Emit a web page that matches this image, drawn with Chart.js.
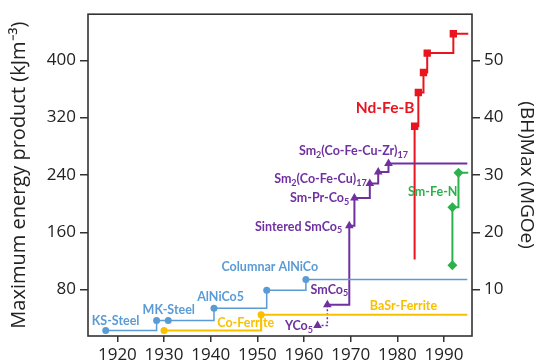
<!DOCTYPE html>
<html>
<head>
<meta charset="utf-8">
<script src="https://cdn.jsdelivr.net/npm/chart.js@4.4.0/dist/chart.umd.min.js"></script>
<style>
    html, body { margin: 0; padding: 0; background: #fff; }
    #wrap { width: 539px; height: 364px; }
</style>
</head>
<body>
<div id="wrap"><canvas id="grafico"></canvas></div>
<script>
// Anos e produto energético máximo (kJ/m3) de cada família de ímãs
const anosAco = [1917.5, 1928.4, 1930.9, 1940.7, 1952, 1960.4, 1995];
const valoresAco = [23, 37, 37, 54, 79, 94, 94];
const anosFerrita = [1930, 1950.8, 1995];
const valoresFerrita = [23, 45, 45];
const anosSmCo = [1962.9, 1965, 1969.7, 1970.8, 1974.1, 1975.9, 1978.1, 1995];
const valoresSmCo = [30, 59, 169, 208, 228, 244, 256, 256];
const anosNdFeB = [1983.7, 1983.7, 1984.5, 1985.6, 1986.4, 1992, 1995.2];
const valoresNdFeB = [122, 308, 355, 383, 410, 437, 437];
const anosSmFeN = [1991.8, 1991.8, 1993.1, 1995.2];
const valoresSmFeN = [114, 195, 243, 243];

const ticksAnos = [1920, 1930, 1940, 1950, 1960, 1970, 1980, 1990];
const ticksKJ = [80, 160, 240, 320, 400];
const ticksMGOe = [10, 20, 30, 40, 50];

const azul = '#5b9bd5';
const amarelo = '#f9c000';
const roxo = '#7030a0';
const vermelho = '#e8141e';
const verde = '#2bb24c';
const corEixo = '#333333';

// nomes dos materiais; "_n" vira subscrito
const rotulos = [
    { texto: 'KS-Steel', ano: 1914.5, valor: 36, cor: azul },
    { texto: 'MK-Steel', ano: 1925.4, valor: 51, cor: azul },
    { texto: 'AlNiCo5', ano: 1937.1, valor: 70, cor: azul },
    { texto: 'Columnar AlNiCo', ano: 1942.3, valor: 112, cor: azul },
    { texto: 'Co-Ferrite', ano: 1941.4, valor: 33, cor: amarelo },
    { texto: 'BaSr-Ferrite', ano: 1974.1, valor: 57, cor: amarelo },
    { texto: 'YCo_5', ano: 1955.9, valor: 29, cor: roxo },
    { texto: 'SmCo_5', ano: 1961.4, valor: 80, cor: roxo },
    { texto: 'Sintered SmCo_5', ano: 1949.5, valor: 168, cor: roxo },
    { texto: 'Sm-Pr-Co_5', ano: 1957.0, valor: 208, cor: roxo },
    { texto: 'Sm_2(Co-Fe-Cu)_17', ano: 1953.6, valor: 234, cor: roxo },
    { texto: 'Sm_2(Co-Fe-Cu-Zr)_17', ano: 1958.9, valor: 273, cor: roxo },
    { texto: 'Nd-Fe-B', ano: 1971.1, valor: 333, cor: vermelho, tamanho: 15.5 },
    { texto: 'Sm-Fe-N', ano: 1982.3, valor: 216, cor: verde }
];

function pontos(anos, valores) {
    return anos.map((ano, i) => ({ x: ano, y: valores[i] }));
}

// o último ponto de cada série só prolonga a linha, sem marcador
function raios(anos, raio, semInicio) {
    return anos.map((a, i) => (i === anos.length - 1 || (semInicio && i === 0)) ? 0 : raio);
}

function serie(anos, valores, cor, estilo, raio, largura, semInicio) {
    return {
        data: pontos(anos, valores),
        borderColor: cor,
        backgroundColor: cor,
        borderWidth: largura,
        pointStyle: estilo,
        pointRadius: raios(anos, raio, semInicio),
        pointBorderWidth: 0,
        stepped: 'before',
        tension: 0
    };
}

const dsSmCo = serie(anosSmCo, valoresSmCo, roxo, 'triangle', 5, 2);
dsSmCo.segment = {
    borderDash: ctx => ctx.p0DataIndex === 0 ? [2, 2] : undefined,
    borderWidth: ctx => ctx.p0DataIndex === 0 ? 1.5 : 2
};

function desenharRotulo(ctx, r, x, y) {
    const tam = r.tamanho || 12.5;
    const partes = r.texto.split(/_(\d+)/);
    let px = x;
    ctx.fillStyle = r.cor;
    ctx.textBaseline = 'middle';
    ctx.textAlign = 'left';
    partes.forEach((p, i) => {
        if (!p) return;
        if (i % 2 === 1) {
            ctx.font = 'bold ' + Math.round(tam * 0.68) + 'px Lato';
            ctx.fillText(p, px, y + tam * 0.3);
        } else {
            ctx.font = 'bold ' + tam + 'px Lato';
            ctx.fillText(p, px, y);
        }
        px += ctx.measureText(p).width;
    });
}

const pluginExtras = {
    id: 'extras',
    afterDatasetsDraw(chart) {
        const ctx = chart.ctx;
        const a = chart.chartArea;
        ctx.save();
        ctx.strokeStyle = corEixo;
        ctx.lineWidth = 1.6;
        ctx.strokeRect(a.left, a.top, a.right - a.left, a.bottom - a.top);
        rotulos.forEach(r => {
            const x = chart.scales.x.getPixelForValue(r.ano);
            const y = chart.scales.y.getPixelForValue(r.valor);
            desenharRotulo(ctx, r, x, y);
        });
        ctx.restore();
    }
};

const fonteTicks = { family: 'Open Sans', size: 17 };

new Chart(document.getElementById('grafico'), {
    type: 'line',
    data: {
        datasets: [
            serie(anosAco, valoresAco, azul, 'circle', 3.5, 1.5),
            serie(anosFerrita, valoresFerrita, amarelo, 'circle', 3.5, 2),
            dsSmCo,
            serie(anosNdFeB, valoresNdFeB, vermelho, 'rect', 5.2, 2, true),
            serie(anosSmFeN, valoresSmFeN, verde, 'rectRot', 5, 2)
        ]
    },
    options: {
        responsive: true,
        maintainAspectRatio: false,
        animation: false,
        layout: { padding: { top: 10 } },
        plugins: { legend: { display: false }, tooltip: { enabled: false } },
        scales: {
            x: {
                type: 'linear',
                min: 1913.7,
                max: 1996,
                afterBuildTicks: s => { s.ticks = ticksAnos.map(v => ({ value: v })); },
                afterFit: s => { s.height = 28; },
                border: { display: false },
                grid: { drawOnChartArea: false, drawTicks: true, tickLength: 6, color: corEixo, lineWidth: 1.5 },
                ticks: { font: fonteTicks, color: '#222', padding: 3, maxRotation: 0, callback: v => String(v) }
            },
            y: {
                position: 'left',
                min: 15.3,
                max: 464.3,
                afterBuildTicks: s => { s.ticks = ticksKJ.map(v => ({ value: v })); },
                afterFit: s => { s.width = 88; },
                border: { display: false },
                grid: { drawOnChartArea: false, drawTicks: true, tickLength: 8, color: corEixo, lineWidth: 1.5 },
                ticks: { font: fonteTicks, color: '#222', padding: 4 },
                title: {
                    display: true,
                    text: 'Maximum energy product (kJm⁻³)',
                    font: { family: 'Open Sans', size: 20 },
                    color: '#222',
                    padding: { top: 7, bottom: 0 }
                }
            },
            y2: {
                position: 'right',
                min: 15.3 / 8,
                max: 464.3 / 8,
                afterBuildTicks: s => { s.ticks = ticksMGOe.map(v => ({ value: v })); },
                afterFit: s => { s.width = 67; },
                border: { display: false },
                grid: { drawOnChartArea: false, drawTicks: true, tickLength: 8, color: corEixo, lineWidth: 1.5 },
                ticks: { font: fonteTicks, color: '#222', padding: 4 },
                title: {
                    display: true,
                    text: '(BH)Max (MGOe)',
                    font: { family: 'Open Sans', size: 19 },
                    color: '#222',
                    padding: { top: 1, bottom: 0 }
                }
            }
        }
    },
    plugins: [pluginExtras]
});
</script>
</body>
</html>
